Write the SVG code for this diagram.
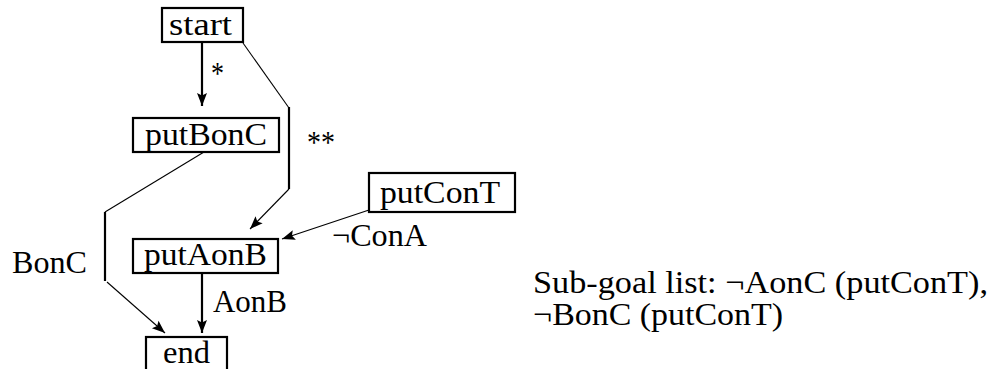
<svg xmlns="http://www.w3.org/2000/svg" width="995" height="369" viewBox="0 0 995 369">
  <style>
    .box { fill: #ffffff; stroke: #000000; stroke-width: 2.2; }
    .lbl { font-family: "Liberation Serif", "DejaVu Serif", serif; font-size: 31px; fill: #000000; }
    .thin { fill: none; stroke: #000000; stroke-width: 1.1; }
    .thick { fill: none; stroke: #000000; stroke-width: 2.2; }
  </style>
  <defs>
    <marker id="arrow" markerUnits="userSpaceOnUse" viewBox="-14 -6 16 12" refX="0" refY="0" markerWidth="16" markerHeight="12" orient="auto">
      <path d="M -13,-5 L 0,0 L -13,5 L -10.5,0 Z" fill="#000000"/>
    </marker>
  </defs>
  <rect width="995" height="369" fill="#ffffff"/>

  <!-- connectors -->
  <g id="connectors">
    <!-- start -> putBonC -->
    <line class="thick" x1="202" y1="43" x2="202" y2="106" marker-end="url(#arrow)"/>
    <!-- start -> putAonB, routed around the right side -->
    <polyline class="thin" points="243,43 289,108"/>
    <line class="thick" x1="289" y1="107" x2="289" y2="189"/>
    <line class="thin" x1="289" y1="189" x2="250" y2="229" marker-end="url(#arrow)"/>
    <!-- putBonC -> end, routed around the left side -->
    <polyline class="thin" points="204,152 105,212"/>
    <line class="thick" x1="105" y1="212" x2="105" y2="281"/>
    <line class="thin" x1="107" y1="282" x2="165" y2="333" marker-end="url(#arrow)"/>
    <!-- putConT -> putAonB -->
    <line class="thin" x1="369" y1="210" x2="282" y2="239" marker-end="url(#arrow)"/>
    <!-- putAonB -> end -->
    <line class="thick" x1="202" y1="273" x2="202" y2="333" marker-end="url(#arrow)"/>

    <text class="lbl" x="211" y="84" textLength="13" lengthAdjust="spacingAndGlyphs">*</text>
    <text class="lbl" x="307" y="153" textLength="28" lengthAdjust="spacingAndGlyphs">**</text>
    <text class="lbl" x="12" y="273" textLength="75" lengthAdjust="spacingAndGlyphs">BonC</text>
    <text class="lbl" x="213" y="312" textLength="74" lengthAdjust="spacingAndGlyphs">AonB</text>
    <text class="lbl" x="332" y="246" textLength="95" lengthAdjust="spacingAndGlyphs">¬ConA</text>
  </g>

  <g id="start">
    <rect class="box" x="162" y="8" width="81" height="34"/>
    <text class="lbl" x="169" y="35" textLength="63" lengthAdjust="spacingAndGlyphs">start</text>
  </g>
  <g id="putBonC">
    <rect class="box" x="133" y="118" width="146" height="34"/>
    <text class="lbl" x="145" y="145" textLength="122" lengthAdjust="spacingAndGlyphs">putBonC</text>
  </g>
  <g id="putConT">
    <rect class="box" x="369" y="173" width="146" height="39"/>
    <text class="lbl" x="380" y="203" textLength="120" lengthAdjust="spacingAndGlyphs">putConT</text>
  </g>
  <g id="putAonB">
    <rect class="box" x="133" y="239" width="145" height="34"/>
    <text class="lbl" x="144" y="265" textLength="123" lengthAdjust="spacingAndGlyphs">putAonB</text>
  </g>
  <g id="end">
    <rect class="box" x="146" y="337" width="81" height="40"/>
    <text class="lbl" x="163" y="363" textLength="47" lengthAdjust="spacingAndGlyphs">end</text>
  </g>

  <g id="subgoals">
    <text class="lbl" x="533" y="293" textLength="455" lengthAdjust="spacingAndGlyphs">Sub-goal list: ¬AonC (putConT),</text>
    <text class="lbl" x="533" y="325" textLength="250" lengthAdjust="spacingAndGlyphs">¬BonC (putConT)</text>
  </g>
</svg>
